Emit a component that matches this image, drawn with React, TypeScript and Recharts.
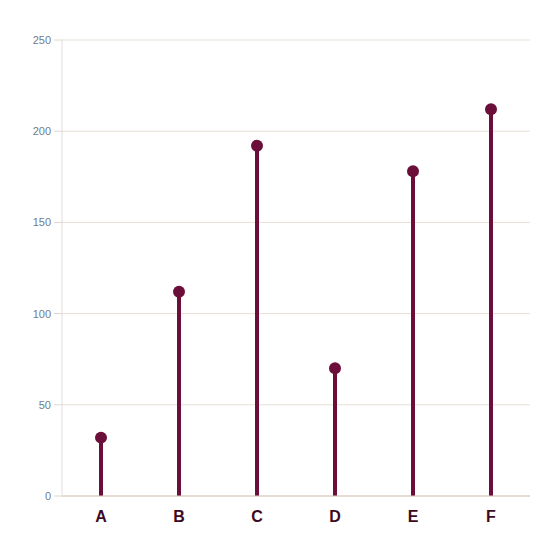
import React from "react";
import { BarChart, Bar, XAxis, YAxis, CartesianGrid } from "recharts";

const categories = ["A", "B", "C", "D", "E", "F"];
const values = [32, 112, 192, 70, 178, 212];
const yTicks = [0, 50, 100, 150, 200, 250];

const data = categories.map((c, i) => ({ name: c, value: values[i] }));

const COLOR = "#6b0f3a";

const Lollipop = (props: any) => {
  const { x, y, width, height } = props;
  const cx = x + width / 2;
  return (
    <g>
      <line x1={cx} y1={y} x2={cx} y2={y + height} stroke={COLOR} strokeWidth={4} />
      <circle cx={cx} cy={y} r={6} fill={COLOR} />
    </g>
  );
};

export default function App() {
  return (
    <div style={{ position: "fixed", top: 0, left: 0, width: 560, height: 560, background: "#fff" }}>
      <BarChart width={560} height={560} data={data} margin={{ top: 40, right: 30, bottom: 24, left: 0 }}>
        <CartesianGrid vertical={false} stroke="#e8e0d8" />
        <XAxis
          dataKey="name"
          height={40}
          tickLine={false}
          axisLine={{ stroke: "#d8c8bc" }}
          tickMargin={9}
          tick={{ fill: "#3d0a22", fontSize: 16, fontWeight: 700, fontFamily: "Liberation Sans, Arial, sans-serif" }}
        />
        <YAxis
          width={62}
          domain={[0, 250]}
          ticks={yTicks}
          tickSize={8}
          tickMargin={3}
          tickLine={{ stroke: "#e0d6d0" }}
          axisLine={{ stroke: "#e0dcdc" }}
          tick={{ fill: "#717c8c", fontSize: 11, fontFamily: "Liberation Sans, Arial, sans-serif" }}
        />
        <Bar dataKey="value" shape={Lollipop} barSize={4} isAnimationActive={false} />
      </BarChart>
    </div>
  );
}
